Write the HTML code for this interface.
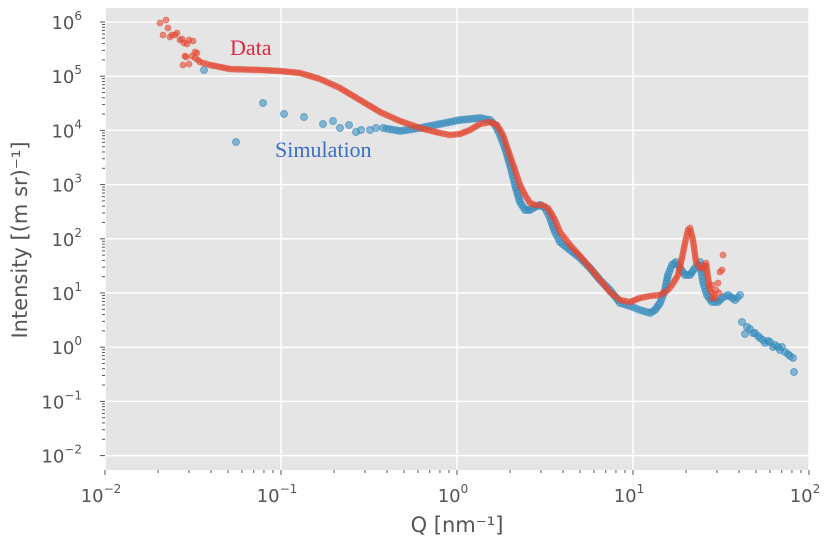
<!DOCTYPE html>
<html><head><meta charset="utf-8"><style>
body{margin:0;background:#fff;}
svg{display:block;font-family:"DejaVu Sans","Liberation Sans",sans-serif;}
.t{fill:#555;font-size:18px;}
</style></head><body>
<svg id="s" width="830" height="547" xmlns="http://www.w3.org/2000/svg">
<rect x="105" y="8" width="704" height="462" fill="#e5e5e5"/>
<g id="grid" stroke="#fff" stroke-width="1.5"></g>
<g id="ticks" stroke="#555" stroke-width="1"></g>
<g id="blue" fill="#348ABD" fill-opacity="0.55" stroke="#348ABD" stroke-opacity="0.6" stroke-width="1"></g>
<g id="red" fill="#E24A33" fill-opacity="0.6" stroke="#E24A33" stroke-opacity="0.6" stroke-width="0.8"></g>
<g id="lbl"></g>
<text x="230" y="55" font-family="Liberation Serif,serif" font-size="22" fill="#dc2845">Data</text>
<text x="275" y="157" font-family="Liberation Serif,serif" font-size="22" fill="#3a70c8">Simulation</text>
<text x="457" y="532" text-anchor="middle" fill="#555" font-size="21">Q [nm⁻¹]</text>
<text transform="translate(27,240) rotate(-90)" text-anchor="middle" fill="#555" font-size="21">Intensity [(m sr)⁻¹]</text>
</svg>
<script>
var NS="http://www.w3.org/2000/svg";
function el(p,t,a,txt){var e=document.createElementNS(NS,t);for(var k in a)e.setAttribute(k,a[k]);if(txt!==undefined)e.innerHTML=txt;document.getElementById(p).appendChild(e);return e;}
var X0=105,DX=176,Y6=22,DY=54.2;
for(var i=0;i<=4;i++){var x=X0+i*DX;el("grid","line",{x1:x,x2:x,y1:8,y2:470});
 el("lbl","text",{x:x-4,y:502,"text-anchor":"middle",class:"t"},"10<tspan dy='-9' font-size='12'>"+(i-2<0?"−"+(2-i):(i-2))+"</tspan>");
 el("ticks","line",{x1:x,x2:x,y1:470,y2:475});
 if(i<4)for(var m=2;m<10;m++){var xm=x+Math.log10(m)*DX;el("ticks","line",{x1:xm,x2:xm,y1:470,y2:473});}}
for(var j=-2;j<=6;j++){var y=Y6+(6-j)*DY;el("grid","line",{x1:105,x2:809,y1:y,y2:y});
 el("ticks","line",{x1:100,x2:105,y1:y,y2:y});
 el("lbl","text",{x:82,y:y+7,"text-anchor":"end",class:"t"},"10<tspan dy='-9' font-size='12'>"+(j<0?"−"+(-j):j)+"</tspan>");
 for(var m=2;m<10;m++){var ym=y-Math.log10(m)*DY;if(ym>8)el("ticks","line",{x1:102,x2:105,y1:ym,y2:ym});}}
function dot(g,x,y,r){el(g,"circle",{cx:x,cy:y,r:r});}
function path(g,pts,step,r){for(var i=0;i<pts.length-1;i++){var a=pts[i],b=pts[i+1];var d=Math.hypot(b[0]-a[0],b[1]-a[1]);var n=Math.max(1,Math.round(d/step));for(var k=0;k<n;k++){var t=k/n;dot(g,a[0]+(b[0]-a[0])*t,a[1]+(b[1]-a[1])*t,r);}}dot(g,pts[pts.length-1][0],pts[pts.length-1][1],r);}
[[204,70],[236,142],[263,103],[284,114],[304,117],[323,124],[333,121],[340,128],[349,125],[356,132],[361,130],[370,130],[376,128]].forEach(function(p){dot("blue",p[0],p[1],3.5);});
path("blue",[[383,128],[400,131],[420,128],[440,124],[460,120],[480,118],[490,120],[495,125],[500,135],[505,148],[510,165],[515,185],[520,202],[525,210],[530,210],[535,207],[540,205],[545,208],[550,218],[555,232],[560,242],[570,250],[580,258],[590,268],[600,280],[610,290],[620,303],[630,306],[640,310],[650,313],[655,310],[660,303],[665,290],[668,275],[672,265],[676,262],[680,268],[685,275],[690,275],[695,268],[700,262],[703,282],[707,295],[712,302],[718,302],[722,298],[728,295],[735,300],[740,295]],3.2,3.5);
[[742,322],[745,334],[747,327],[750,329],[753,333],[755,333],[758,336],[760,338],[763,340],[765,343],[768,341],[770,342],[773,347],[775,345],[778,347],[780,350],[782,347],[785,352],[788,354],[790,356],[793,358],[794,372]].forEach(function(p){dot("blue",p[0],p[1],3.5);});
[[160,23],[166,20],[163,35],[168,28],[170,37],[172,35],[175,35],[177,33],[180,40],[182,39],[184,43],[187,44],[189,40],[193,41],[189,64],[186,57],[192,56],[195,58],[197,53],[195,52],[183,65],[185,56],[198,60]].forEach(function(p){dot("red",p[0],p[1],3);});
path("red",[[200,62],[210,65],[230,69],[260,70],[280,71],[300,73],[320,79],[340,88],[360,100],[380,112],[400,121],[420,128],[440,133],[450,135],[460,134],[470,130],[480,124],[490,122],[497,125],[503,135],[508,150],[515,170],[520,185],[525,195],[530,203],[535,205],[542,205],[548,208],[555,220],[560,232],[570,245],[580,256],[590,268],[600,280],[610,292],[620,300],[630,302],[640,298],[650,296],[660,295],[668,290],[672,285],[675,280],[678,275],[682,258],[685,243],[688,230],[690,228],[693,240],[696,262],[700,268],[703,268],[706,263],[708,278],[710,290],[714,295]],3,3);
[[716,290],[718,283],[720,272],[722,270],[723,255],[712,285],[715,298],[719,293],[712,298]].forEach(function(p){dot("red",p[0],p[1],3);});
</script>
</body></html>
